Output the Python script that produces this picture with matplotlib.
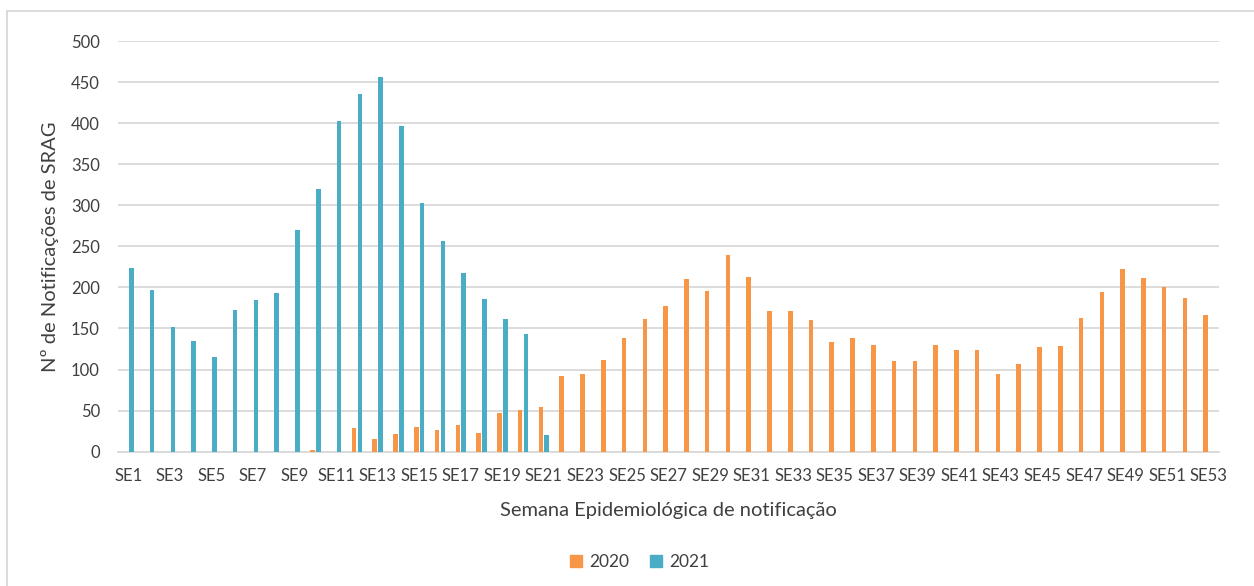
import matplotlib
matplotlib.use("Agg")
import matplotlib.pyplot as plt
import numpy as np
from matplotlib.lines import Line2D
from matplotlib.patches import Patch

weeks = [f"SE{i}" for i in range(1, 54)]
series_2020 = [0, 0, 0, 0, 0, 0, 0, 0, 0, 2,
               0, 29, 15, 21, 30, 27, 33, 23, 47, 51,
               55, 92, 94, 112, 139, 162, 177, 210, 196, 240,
               213, 171, 171, 160, 133, 139, 130, 110, 110, 130,
               124, 124, 94, 107, 128, 129, 163, 195, 222, 211,
               201, 187, 166]
series_2021 = [224, 197, 152, 135, 115, 173, 185, 193, 270, 320,
               403, 435, 456, 397, 303, 256, 218, 186, 162, 143,
               20, 0, 0, 0, 0, 0, 0, 0, 0, 0,
               0, 0, 0, 0, 0, 0, 0, 0, 0, 0,
               0, 0, 0, 0, 0, 0, 0, 0, 0, 0,
               0, 0, 0]
legend_labels = ["2020", "2021"]
y_ticks = [0, 50, 100, 150, 200, 250, 300, 350, 400, 450, 500]

C2020 = "#F79646"
C2021 = "#4BACC6"
TXT = "#404040"
GRID = "#D9D9D9"

plt.rcParams['font.family'] = ['Lato', 'DejaVu Sans']

fig = plt.figure(figsize=(12.54, 5.86), dpi=100)
ax = fig.add_axes([118/1254, 1-451.7/586, 1101/1254, 410.7/586])

x = np.arange(len(weeks))
w = 0.22
off = 0.14
ax.bar(x - off, series_2020, width=w, color=C2020, zorder=3)
ax.bar(x + off, series_2021, width=w, color=C2021, zorder=3)

ax.set_xlim(-0.5, len(weeks) - 0.5)
ax.set_ylim(0, 500)
ax.set_yticks(y_ticks)
ax.set_xticks(x[::2])
ax.set_xticklabels(weeks[::2])
ax.tick_params(axis='both', length=0, labelsize=12, colors=TXT)
ax.tick_params(axis='x', pad=12)
ax.tick_params(axis='y', pad=13)
ax.grid(axis='y', color=GRID, linewidth=1.3, zorder=0)
for s in ['top', 'right', 'left']:
    ax.spines[s].set_visible(False)
ax.spines['bottom'].set_color(GRID)
ax.spines['bottom'].set_linewidth(1.3)

ax.set_ylabel("Nº de Notificações de SRAG", fontsize=14.5, color=TXT)
ax.yaxis.set_label_coords(-0.062, 0.5)
ax.yaxis.label.set_va('center')
ax.set_xlabel("Semana Epidemiológica de notificação", fontsize=14.5, color=TXT)
ax.xaxis.set_label_coords(0.5, -0.142)
ax.xaxis.label.set_va('center')

handles = [Patch(color=C2020), Patch(color=C2021)]
fig.legend(handles, legend_labels, loc='center', bbox_to_anchor=(0.51, 1-562/586),
           ncol=2, frameon=False, fontsize=12.5, handlelength=0.7, handleheight=0.7,
           handletextpad=0.4, columnspacing=1.2, labelcolor=TXT)

# outer chart frame (left and top edges visible)
fig.add_artist(Line2D([7/1254, 7/1254], [0, 1-11/586], transform=fig.transFigure,
                      color=GRID, linewidth=1.3))
fig.add_artist(Line2D([7/1254, 1], [1-11/586, 1-11/586], transform=fig.transFigure,
                      color=GRID, linewidth=1.3))

fig.savefig("out.png", dpi=100, facecolor="white")
